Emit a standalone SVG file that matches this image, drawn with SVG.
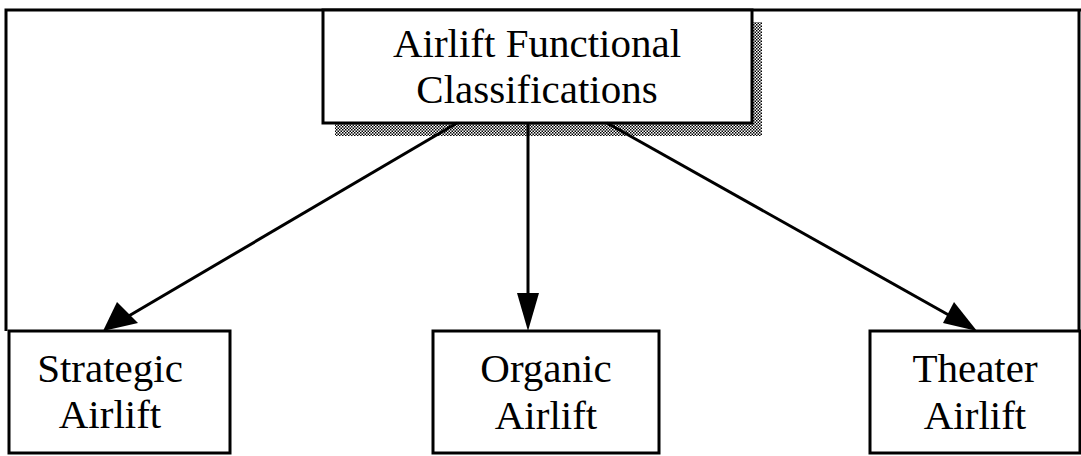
<svg xmlns="http://www.w3.org/2000/svg" width="1081" height="456" viewBox="0 0 1081 456">
<defs>
<pattern id="dots" width="3" height="3" patternUnits="userSpaceOnUse">
<rect width="3" height="3" fill="#fff"/>
<rect width="1.5" height="1.5" fill="#000"/>
<rect x="1.5" y="1.5" width="1.5" height="1.5" fill="#000"/>
</pattern>
<style>
.box{fill:#fff;stroke:#000;stroke-width:3}
.t{font-family:"Liberation Serif","Times New Roman",serif;font-size:41px;fill:#000;text-anchor:middle}
.c{stroke:#000;stroke-width:3;fill:none}
.h{fill:#000}
</style>
</defs>
<rect width="1081" height="456" fill="#fff"/>
<g id="frame">
<path d="M6,331 V10 H1081" class="c"/>
<path d="M1079,10 V331" class="c"/>
</g>
<g id="n-top">
<rect x="335" y="22" width="427" height="114" fill="url(#dots)"/>
<rect class="box" x="323" y="10" width="429" height="113"/>
<text class="t" x="537" y="57">Airlift Functional</text>
<text class="t" x="537" y="103">Classifications</text>
</g>
<g id="connectors">
<line class="c" x1="457" y1="123" x2="110" y2="327"/>
<line class="c" x1="528" y1="123" x2="528" y2="320"/>
<line class="c" x1="607" y1="123" x2="970" y2="327"/>
<polygon class="h" points="103,331 117,302 138,323"/>
<polygon class="h" points="528,331 517,293 539,293"/>
<polygon class="h" points="977,331 943,323 954,302"/>
</g>
<g id="n-strategic">
<rect class="box" x="9" y="331" width="221" height="122"/>
<text class="t" x="110" y="382">Strategic</text>
<text class="t" x="110" y="428">Airlift</text>
</g>
<g id="n-organic">
<rect class="box" x="433" y="331" width="226" height="122"/>
<text class="t" x="546" y="382">Organic</text>
<text class="t" x="546" y="429">Airlift</text>
</g>
<g id="n-theater">
<rect class="box" x="870" y="331" width="210" height="122"/>
<text class="t" x="975" y="382">Theater</text>
<text class="t" x="975" y="429">Airlift</text>
</g>
</svg>
